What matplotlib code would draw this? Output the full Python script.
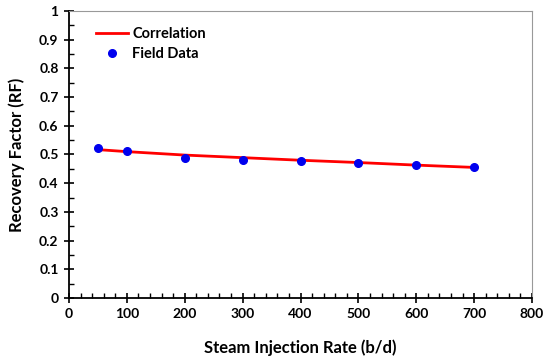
import matplotlib.pyplot as plt
from matplotlib.ticker import MultipleLocator

rate = [50, 100, 200, 300, 400, 500, 600, 700]
rf_field = [0.524, 0.513, 0.488, 0.480, 0.476, 0.469, 0.462, 0.456]
rf_corr = [0.517, 0.510, 0.498, 0.489, 0.480, 0.472, 0.463, 0.455]

plt.rcParams['font.family'] = ['Lato', 'DejaVu Sans']
plt.rcParams['font.weight'] = 'bold'

fig = plt.figure(figsize=(5.5, 3.62), dpi=100)
ax = fig.add_axes([69/550, 1-298/362, (532-69)/550, (298-11)/362])

ax.plot(rate, rf_corr, color='#ff0000', lw=2, label='Correlation', zorder=2)
ax.plot(rate, rf_field, 'o', color='#0000ee', ms=5.5, label='Field Data', zorder=3)

ax.set_xlim(0, 800)
ax.set_ylim(0, 1)
ax.xaxis.set_major_locator(MultipleLocator(100))
ax.xaxis.set_minor_locator(MultipleLocator(20))
ax.yaxis.set_major_locator(MultipleLocator(0.1))
ax.yaxis.set_minor_locator(MultipleLocator(0.05))
ax.yaxis.set_major_formatter(lambda v, p: '0' if v == 0 else ('1' if v == 1 else f'{v:.1f}'))
ax.tick_params(which='major', direction='inout', length=7, width=1.2, labelsize=10, pad=4)
ax.tick_params(which='minor', direction='in', length=3.5, width=1)
ax.tick_params(top=False, right=False, which='both')

for s in ['top', 'right']:
    ax.spines[s].set_color('#999999')
for s in ['left', 'bottom']:
    ax.spines[s].set_color('black')
    ax.spines[s].set_linewidth(1.3)

ax.set_xlabel('Steam Injection Rate (b/d)', fontsize=12, fontweight='bold', labelpad=14)
ax.set_ylabel('Recovery Factor (RF)', fontsize=12, fontweight='bold', labelpad=10)

ax.legend(loc='upper left', bbox_to_anchor=(0.045, 0.965), frameon=False,
          handlelength=2.2, handletextpad=0.3, borderaxespad=0, labelspacing=0.45,
          prop={'weight': 'bold', 'size': 10.5})

fig.savefig('out.png', dpi=100)
